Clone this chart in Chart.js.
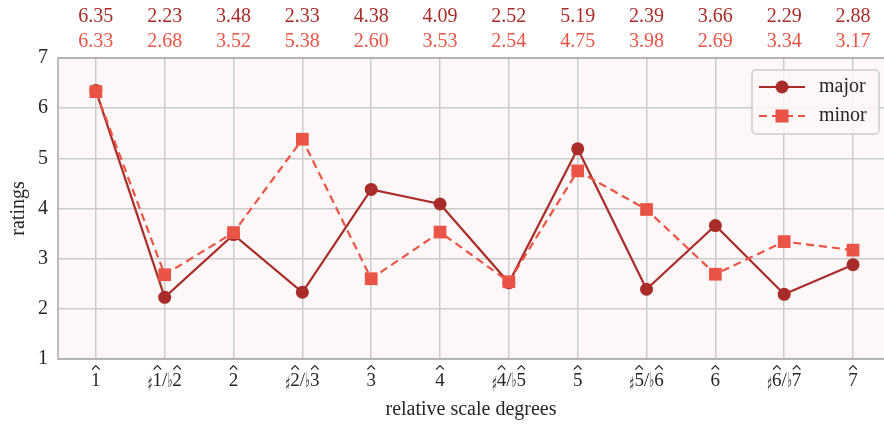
<!DOCTYPE html>
<html>
<head>
<meta charset="utf-8">
<script src="https://cdn.jsdelivr.net/npm/chart.js@4"></script>
<style>
  html, body { margin: 0; padding: 0; background: #fff; }
  #wrap { width: 884px; height: 425px; }
</style>
</head>
<body>
<div id="wrap"><canvas id="chart" width="884" height="425"></canvas></div>
<script>
const degrees = ['1\u0302', '\u266F1\u0302/\u266D2\u0302', '2\u0302', '\u266F2\u0302/\u266D3\u0302', '3\u0302', '4\u0302',
  '\u266F4\u0302/\u266D5\u0302', '5\u0302', '\u266F5\u0302/\u266D6\u0302', '6\u0302', '\u266F6\u0302/\u266D7\u0302', '7\u0302'];
const majorRatings = [6.35, 2.23, 3.48, 2.33, 4.38, 4.09, 2.52, 5.19, 2.39, 3.66, 2.29, 2.88];
const minorRatings = [6.33, 2.68, 3.52, 5.38, 2.60, 3.53, 2.54, 4.75, 3.98, 2.69, 3.34, 3.17];
const yTicks = [1, 2, 3, 4, 5, 6, 7];

const MAJOR = 'rgb(168, 44, 42)';
const MINOR = 'rgb(234, 84, 70)';
const TEXT = '#262626';
const FONT = '"Liberation Serif", "DejaVu Serif", serif';

const toPoints = (vals) => vals.map((v, i) => ({ x: i, y: v }));

// split a label like "♯1̂/♭2̂" into pieces; digits followed by U+0302 get a hat
function splitLabel(s) {
  const out = [];
  for (const ch of s) {
    if (ch === '\u0302') {
      out[out.length - 1].hat = true;
    } else if (ch === '\u266F' || ch === '\u266D') {
      out.push({ text: ch, acc: true });
    } else {
      out.push({ text: ch });
    }
  }
  return out;
}

function drawDegree(ctx, label, cx, baseline) {
  const parts = splitLabel(label);
  const ACC_SX = 0.5;
  const fontFor = (p) => (p.acc ? '21px "DejaVu Sans", sans-serif' : '19px ' + FONT);
  let total = 0;
  parts.forEach((p) => {
    ctx.font = fontFor(p);
    p.w = ctx.measureText(p.text).width * (p.acc ? ACC_SX : 1);
    total += p.w;
  });
  let x = cx - total / 2;
  parts.forEach((p) => {
    ctx.font = fontFor(p);
    ctx.fillStyle = TEXT;
    ctx.textAlign = 'left';
    ctx.textBaseline = 'alphabetic';
    if (p.acc) {
      ctx.save();
      ctx.translate(x, baseline + (p.text === '\u266F' ? 5 : 1));
      ctx.scale(ACC_SX, 1);
      ctx.fillText(p.text, 0, 0);
      ctx.restore();
    } else {
      ctx.fillText(p.text, x, baseline);
    }
    if (p.hat) {
      const mx = x + p.w / 2;
      ctx.strokeStyle = TEXT;
      ctx.lineWidth = 1.1;
      ctx.beginPath();
      ctx.moveTo(mx - 3.8, baseline - 16.5);
      ctx.lineTo(mx, baseline - 20.5);
      ctx.lineTo(mx + 3.8, baseline - 16.5);
      ctx.stroke();
    }
    x += p.w;
  });
}

// background, frame, value rows, axis texts and legend box
const decor = {
  id: 'decor',
  beforeDraw(chart) {
    const { ctx, chartArea: a } = chart;
    ctx.save();
    ctx.fillStyle = '#fdf7f7';
    ctx.fillRect(a.left, a.top, a.right - a.left, a.bottom - a.top);
    ctx.restore();
  },
  afterDatasetsDraw(chart) {
    const { ctx, chartArea: a } = chart;
    const xs = chart.scales.x;
    ctx.save();
    ctx.strokeStyle = '#a8a8a8';
    ctx.lineWidth = 1.5;
    ctx.beginPath();
    ctx.moveTo(a.right + 2, a.top);
    ctx.lineTo(a.left, a.top);
    ctx.lineTo(a.left, a.bottom);
    ctx.lineTo(a.right + 2, a.bottom);
    ctx.stroke();

    // numbers above the plot
    ctx.font = '20px ' + FONT;
    ctx.textAlign = 'center';
    ctx.textBaseline = 'middle';
    degrees.forEach((d, i) => {
      const x = xs.getPixelForValue(i);
      ctx.fillStyle = MAJOR;
      ctx.fillText(majorRatings[i].toFixed(2), x, 17);
      ctx.fillStyle = MINOR;
      ctx.fillText(minorRatings[i].toFixed(2), x, 42);
    });

    // x tick labels and axis titles
    degrees.forEach((d, i) => drawDegree(ctx, d, xs.getPixelForValue(i), 386));
    ctx.fillStyle = TEXT;
    ctx.font = '20px ' + FONT;
    ctx.textAlign = 'center';
    ctx.textBaseline = 'middle';
    ctx.fillText('relative scale degrees', (a.left + a.right) / 2, 410);
    ctx.save();
    ctx.translate(19, (a.top + a.bottom) / 2);
    ctx.rotate(-Math.PI / 2);
    ctx.fillText('ratings', 0, 0);
    ctx.restore();

    // legend
    const lx = 752, ly = 70, lw = 127, lh = 64;
    ctx.fillStyle = 'rgba(253, 247, 247, 0.85)';
    ctx.strokeStyle = '#cccccc';
    ctx.lineWidth = 1.5;
    ctx.beginPath();
    ctx.roundRect(lx, ly, lw, lh, 4);
    ctx.fill();
    ctx.stroke();

    const rows = [
      { label: 'major', color: MAJOR, dash: [], y: ly + 17 },
      { label: 'minor', color: MINOR, dash: [8, 5], y: ly + 46 },
    ];
    rows.forEach((r, k) => {
      ctx.strokeStyle = r.color;
      ctx.fillStyle = r.color;
      ctx.lineWidth = 2;
      ctx.setLineDash(r.dash);
      ctx.beginPath();
      ctx.moveTo(lx + 7, r.y);
      ctx.lineTo(lx + 53, r.y);
      ctx.stroke();
      ctx.setLineDash([]);
      if (k === 0) {
        ctx.beginPath();
        ctx.arc(lx + 30, r.y, 6.5, 0, Math.PI * 2);
        ctx.fill();
      } else {
        ctx.fillRect(lx + 23.5, r.y - 6.5, 13, 13);
      }
      ctx.fillStyle = TEXT;
      ctx.textAlign = 'left';
      ctx.font = '20px ' + FONT;
      ctx.fillText(r.label, lx + 67, r.y);
    });
    ctx.restore();
  },
};

new Chart(document.getElementById('chart'), {
  type: 'line',
  data: {
    datasets: [
      {
        label: 'major',
        data: toPoints(majorRatings),
        borderColor: MAJOR,
        backgroundColor: MAJOR,
        borderWidth: 2.2,
        pointStyle: 'circle',
        pointRadius: 6.5,
        pointBorderWidth: 0,
        tension: 0,
        order: 2,
      },
      {
        label: 'minor',
        data: toPoints(minorRatings),
        borderColor: MINOR,
        backgroundColor: MINOR,
        borderWidth: 2.2,
        borderDash: [8, 5],
        pointStyle: 'rect',
        pointRadius: 9,
        pointBorderWidth: 0,
        tension: 0,
        order: 1,
      },
    ],
  },
  options: {
    responsive: false,
    animation: false,
    layout: { autoPadding: false, padding: { top: 58, left: 0, right: 0, bottom: 0 } },
    plugins: {
      legend: { display: false },
      tooltip: { enabled: false },
    },
    scales: {
      x: {
        type: 'linear',
        min: -0.55,
        max: 11.45,
        afterBuildTicks: (axis) => {
          axis.ticks = degrees.map((d, i) => ({ value: i }));
        },
        afterFit: (axis) => {
          axis.height = 66;
        },
        ticks: { display: false },
        grid: { color: '#cccccc', lineWidth: 1.5, drawTicks: false },
        border: { display: false },
      },
      y: {
        min: 1,
        max: 7,
        afterBuildTicks: (axis) => {
          axis.ticks = yTicks.map((v) => ({ value: v }));
        },
        afterFit: (axis) => {
          axis.width = 58;
        },
        ticks: {
          padding: 10,
          color: TEXT,
          font: { family: FONT, size: 20 },
        },
        grid: { color: '#cccccc', lineWidth: 1.5, drawTicks: false },
        border: { display: false },
      },
    },
  },
  plugins: [decor],
});
</script>
</body>
</html>
